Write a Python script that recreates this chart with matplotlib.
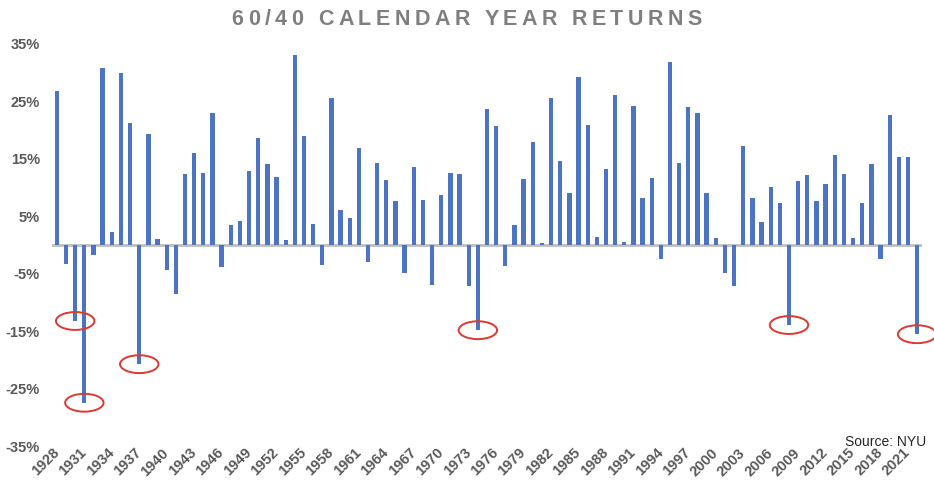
import numpy as np
import matplotlib.pyplot as plt
from matplotlib.patches import Ellipse

# 数据：1928-2022 年 60/40 组合年度回报 (%)
years = list(range(1928, 2023))
returns = [
    26.7, -3.3, -13.2, -27.4, -1.7, 30.8, 2.3, 29.9, 21.2, -20.7,
    19.3, 1.0, -4.3, -8.5, 12.4, 16.0, 12.5, 23.0, -3.9, 3.4,
    4.1, 12.8, 18.6, 14.1, 11.8, 0.9, 33.0, 19.0, 3.6, -3.4,
    25.5, 6.1, 4.7, 16.8, -3.0, 14.2, 11.3, 7.7, -4.8, 13.6,
    7.8, -6.9, 8.7, 12.5, 12.4, -7.2, -14.8, 23.7, 20.7, -3.6,
    3.5, 11.4, 17.9, 0.4, 25.5, 14.6, 9.1, 29.1, 20.8, 1.4,
    13.2, 26.1, 0.6, 24.2, 8.2, 11.7, -2.4, 31.8, 14.2, 23.9,
    23.0, 9.1, 1.2, -4.9, -7.2, 17.2, 8.2, 4.0, 10.1, 7.3,
    -13.9, 11.1, 12.2, 7.6, 10.6, 15.6, 12.4, 1.3, 7.3, 14.1,
    -2.4, 22.6, 15.3, 15.3, -15.5,
]
# 红圈标注的年份
circled_years = [1930, 1931, 1937, 1974, 2008, 2022]
ytick_values = [35, 25, 15, 5, -5, -15, -25, -35]
xtick_years = years[::3]

title = '60/40 CALENDAR YEAR RETURNS'
W, H = 934, 484

plt.rcParams['font.family'] = ['Liberation Sans', 'DejaVu Sans']
fig = plt.figure(figsize=(W / 100, H / 100), dpi=100)
ax = fig.add_axes([52.3 / W, 1 - 446.5 / H, (921.7 - 52.3) / W, (446.5 - 43.5) / H])

x = np.arange(len(years))
ax.bar(x, returns, width=0.47, color='#4d73c3', zorder=2)
ax.axhline(0, color='#bfbfbf', lw=2, zorder=1)

# 红色椭圆
for yr in circled_years:
    i = years.index(yr)
    ax.add_patch(Ellipse((i, returns[i]), 4.2, 3.1, fill=False, edgecolor='#d93a32',
                         lw=1.4, clip_on=False, zorder=3))

ax.set_xlim(-0.5, len(years) - 0.5)
ax.set_ylim(-35, 35)
ax.set_yticks(ytick_values)
ax.set_yticklabels([f'{v}%' for v in ytick_values])
ax.set_xticks([years.index(y) for y in xtick_years])
ax.set_xticklabels([str(y) for y in xtick_years], rotation=45, ha='right',
                   rotation_mode='anchor', va='center')
ax.tick_params(axis='both', length=0, labelsize=10.5, labelcolor='#595959')
ax.tick_params(axis='x', pad=3)
ax.tick_params(axis='y', pad=9)
for lab in ax.get_xticklabels() + ax.get_yticklabels():
    lab.set_fontweight('bold')
for s in ax.spines.values():
    s.set_visible(False)

# 标题：逐字放置以模拟字间距
fig.canvas.draw()
renderer = fig.canvas.get_renderer()
tsize = 15.5
def text_w(s):
    t = fig.text(0, 0, s + '|', fontsize=tsize, fontweight='bold')
    w1 = t.get_window_extent(renderer).width
    t.remove()
    t = fig.text(0, 0, '|', fontsize=tsize, fontweight='bold')
    w2 = t.get_window_extent(renderer).width
    t.remove()
    return w1 - w2

total_w = 470
natural = text_w(title)
gap = (total_w - natural) / (len(title) - 1)
x0 = 466.7 - total_w / 2
for i, ch in enumerate(title):
    if ch == ' ':
        continue
    px = x0 + text_w(title[:i]) + i * gap
    fig.text(px / W, 1 - 19.5 / H, ch, fontsize=tsize, fontweight='bold',
             color='#7f7f7f', ha='left', va='center')

fig.text(926 / W, 1 - 442 / H, 'Source: NYU', fontsize=10, color='#262626',
         ha='right', va='center')

plt.savefig('out.png', dpi=100)
